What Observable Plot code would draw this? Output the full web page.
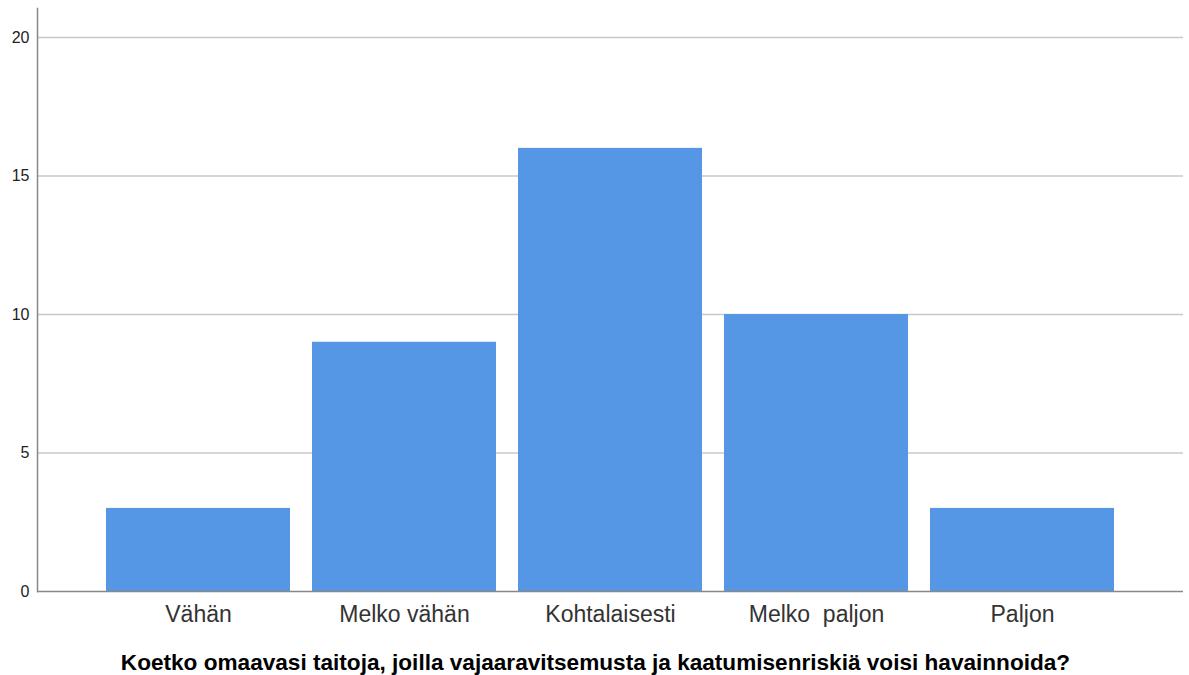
<!DOCTYPE html>
<html>
<head>
<meta charset="utf-8">
<script src="https://cdn.jsdelivr.net/npm/d3@7"></script>
<script src="https://cdn.jsdelivr.net/npm/@observablehq/plot@0.6"></script>
<style>
  body { margin: 0; background: #fff; }
  #chart svg { display: block; }
</style>
</head>
<body>
<div id="chart"></div>
<script>
const categories = ["Vähän", "Melko vähän", "Kohtalaisesti", "Melko  paljon", "Paljon"];
const counts = [3, 9, 16, 10, 3];
const yTicks = [0, 5, 10, 15, 20];
const xTitle = "Koetko omaavasi taitoja, joilla vajaaravitsemusta ja kaatumisenriskiä voisi havainnoida?";

const data = categories.map((c, i) => ({category: c, count: counts[i]}));

const chart = Plot.plot({
  width: 1189,
  height: 675,
  marginTop: 8,
  marginBottom: 84,
  marginLeft: 37,
  marginRight: 6,
  style: {fontFamily: "'Liberation Sans', Arial, sans-serif", background: "#fff"},
  x: {domain: categories, paddingInner: 0.107, paddingOuter: 0.33, label: null},
  y: {domain: [0, 21.05], ticks: yTicks, label: null},
  marks: [
    Plot.gridY(yTicks.filter(d => d > 0), {stroke: "#c8c8c8", strokeOpacity: 1, strokeWidth: 1.5}),
    Plot.barY(data, {x: "category", y: "count", fill: "#5597e5"}),
    Plot.axisY({ticks: yTicks, tickSize: 0, tickPadding: 8, fontSize: 16, fill: "#222", label: null}),
    Plot.axisX({tickSize: 0, tickPadding: 14, fontSize: 23, fill: "#333", label: null}),
    Plot.frame({anchor: "left", stroke: "#888", strokeWidth: 1.5}),
    Plot.ruleY([0], {stroke: "#888", strokeWidth: 1.5}),
    Plot.text([xTitle], {frameAnchor: "bottom", dx: -15, dy: 71, fontSize: 22.6, fontWeight: "bold", fill: "#000", lineAnchor: "middle"})
  ]
});
document.getElementById("chart").appendChild(chart);
</script>
</body>
</html>
